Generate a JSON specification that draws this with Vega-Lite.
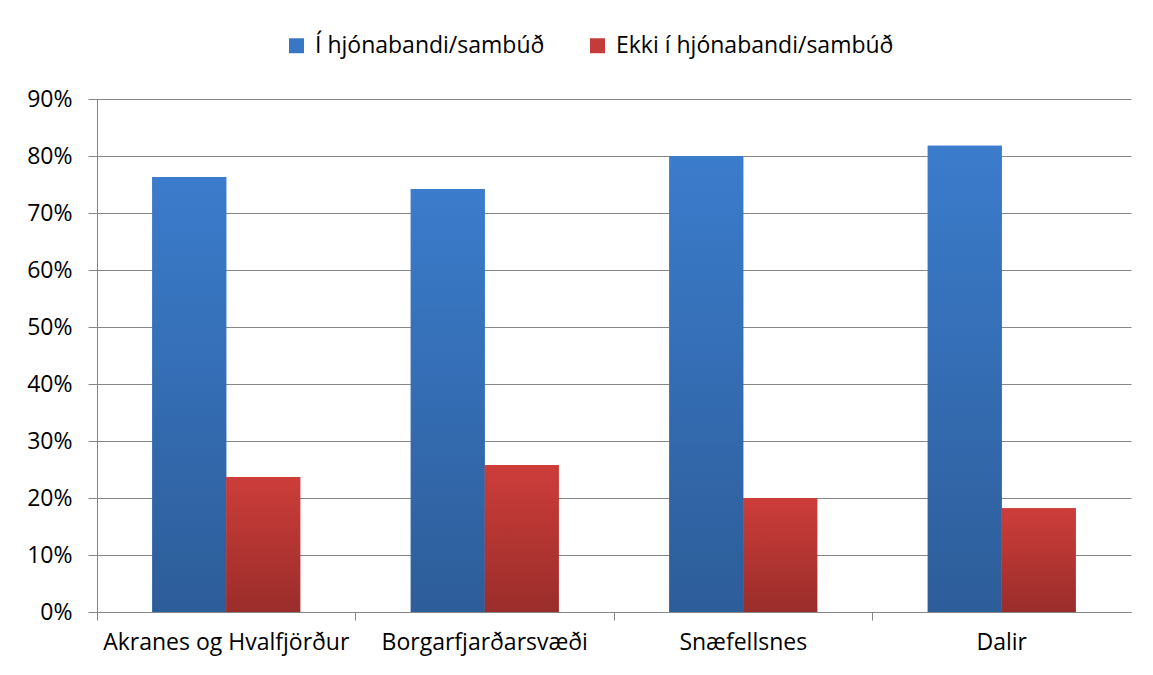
{
  "$schema": "https://vega.github.io/schema/vega-lite/v6.json",
  "width": 1034,
  "height": 513,
  "autosize": {"type": "none"},
  "padding": {"left": 97, "top": 99, "right": 22, "bottom": 63},
  "background": "white",
  "data": {
    "values": [
      {"svaedi": "Akranes og Hvalfjörður", "flokkur": "Í hjónabandi/sambúð", "hlutfall": 0.763},
      {"svaedi": "Akranes og Hvalfjörður", "flokkur": "Ekki í hjónabandi/sambúð", "hlutfall": 0.237},
      {"svaedi": "Borgarfjarðarsvæði", "flokkur": "Í hjónabandi/sambúð", "hlutfall": 0.742},
      {"svaedi": "Borgarfjarðarsvæði", "flokkur": "Ekki í hjónabandi/sambúð", "hlutfall": 0.258},
      {"svaedi": "Snæfellsnes", "flokkur": "Í hjónabandi/sambúð", "hlutfall": 0.80},
      {"svaedi": "Snæfellsnes", "flokkur": "Ekki í hjónabandi/sambúð", "hlutfall": 0.20},
      {"svaedi": "Dalir", "flokkur": "Í hjónabandi/sambúð", "hlutfall": 0.818},
      {"svaedi": "Dalir", "flokkur": "Ekki í hjónabandi/sambúð", "hlutfall": 0.182}
    ]
  },
  "encoding": {
    "x": {
      "field": "svaedi",
      "type": "nominal",
      "sort": null,
      "title": null,
      "scale": {"paddingInner": 0, "paddingOuter": 0},
      "axis": {
        "bandPosition": 0,
        "labelAngle": 0,
        "labelFont": "Open Sans",
        "labelFontSize": 23,
        "labelColor": "#000000",
        "labelPadding": 11,
        "labelLimit": 0,
        "domainColor": "#868686",
        "tickColor": "#868686",
        "tickSize": 8,
        "grid": false
      }
    },
    "xOffset": {
      "field": "flokkur",
      "type": "nominal",
      "sort": ["Í hjónabandi/sambúð", "Ekki í hjónabandi/sambúð"],
      "scale": {"paddingInner": 0, "paddingOuter": 0.747}
    },
    "y": {
      "field": "hlutfall",
      "type": "quantitative",
      "title": null,
      "scale": {"domain": [0, 0.9], "nice": false},
      "axis": {
        "values": [0, 0.1, 0.2, 0.3, 0.4, 0.5, 0.6, 0.7, 0.8, 0.9],
        "format": ".0%",
        "labelFont": "Open Sans",
        "labelFontSize": 23,
        "labelColor": "#000000",
        "labelPadding": 16,
        "domainColor": "#868686",
        "tickColor": "#868686",
        "tickSize": 9,
        "gridColor": "#868686",
        "gridWidth": 1.2
      }
    }
  },
  "layer": [
    {
      "mark": {"type": "bar"},
      "encoding": {
        "color": {
          "field": "flokkur",
          "type": "nominal",
          "sort": ["Í hjónabandi/sambúð", "Ekki í hjónabandi/sambúð"],
          "title": null,
          "scale": {"range": ["#3877c4", "#c43c39"]},
          "legend": {
            "orient": "none",
            "direction": "horizontal",
            "legendX": 188,
            "legendY": -65,
            "symbolType": "square",
            "symbolSize": 225,
            "symbolStrokeWidth": 0,
            "labelFont": "Open Sans",
            "labelFontSize": 23,
            "labelColor": "#000000",
            "labelOffset": 7,
            "labelLimit": 0,
            "columnPadding": 41
          }
        }
      }
    },
    {
      "transform": [{"filter": "datum.flokkur === 'Í hjónabandi/sambúð'"}],
      "mark": {
        "type": "bar",
        "fill": {"gradient": "linear", "x1": 0, "y1": 0, "x2": 0, "y2": 1, "stops": [{"offset": 0, "color": "#3b7ccc"}, {"offset": 1, "color": "#2d5d99"}]}
      }
    },
    {
      "transform": [{"filter": "datum.flokkur === 'Ekki í hjónabandi/sambúð'"}],
      "mark": {
        "type": "bar",
        "fill": {"gradient": "linear", "x1": 0, "y1": 0, "x2": 0, "y2": 1, "stops": [{"offset": 0, "color": "#cd3d3a"}, {"offset": 1, "color": "#9a2d2a"}]}
      }
    }
  ],
  "config": {
    "view": {"stroke": null},
    "axis": {"gridDash": []}
  }
}
